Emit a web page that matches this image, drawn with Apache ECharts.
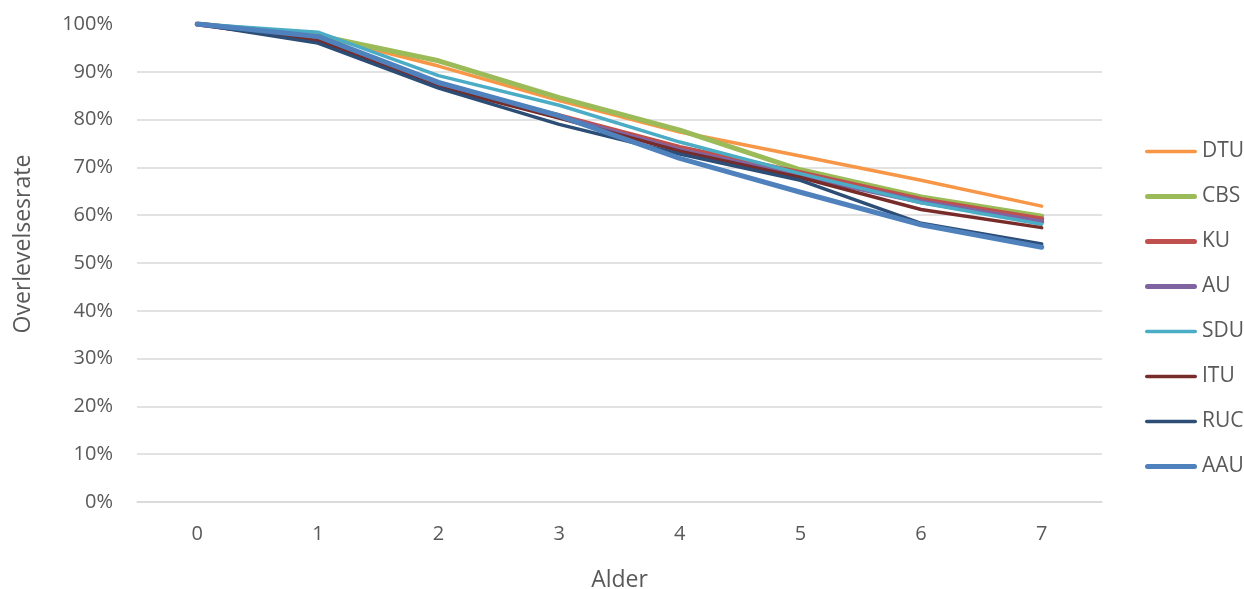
<!DOCTYPE html>
<html><head><meta charset="utf-8">
<script src="https://cdn.jsdelivr.net/npm/echarts@6/dist/echarts.min.js"></script>
<style>html,body{margin:0;padding:0;background:#fff}#c{width:1244px;height:589px}</style>
</head><body><div id="c"></div>
<script>
var categories = ['0','1','2','3','4','5','6','7'];
var DTU = [100, 97.6, 91.2, 84.0, 77.4, 72.4, 67.3, 61.9];
var CBS = [100, 97.6, 92.3, 84.6, 77.8, 69.5, 63.8, 59.8];
var KU  = [100, 96.8, 87.0, 80.8, 74.2, 68.9, 63.3, 59.2];
var AU  = [100, 96.9, 87.2, 80.6, 73.6, 68.2, 62.8, 58.6];
var SDU = [100, 98.3, 89.2, 83.0, 75.3, 68.7, 62.6, 58.1];
var ITU = [100, 96.5, 86.8, 80.3, 73.4, 67.9, 61.2, 57.4];
var RUC = [100, 96.0, 86.6, 79.0, 72.8, 67.3, 58.3, 54.0];
var AAU = [100, 97.4, 87.8, 80.8, 71.9, 64.8, 58.0, 53.3];
var yTicks = [0,10,20,30,40,50,60,70,80,90,100];

var seriesDefs = [
  {name:'DTU', data:DTU, color:'#F79646', thick:false},
  {name:'CBS', data:CBS, color:'#9BBB59', thick:true},
  {name:'KU',  data:KU,  color:'#C0504D', thick:true},
  {name:'AU',  data:AU,  color:'#8064A2', thick:true},
  {name:'SDU', data:SDU, color:'#4BACC6', thick:false},
  {name:'ITU', data:ITU, color:'#772C2A', thick:false},
  {name:'RUC', data:RUC, color:'#2C4D75', thick:false},
  {name:'AAU', data:AAU, color:'#4F81BD', thick:true}
];
var thickIcon = 'path://M2.5,0 H49.5 A2.5,2.5 0 0 1 49.5,5 H2.5 A2.5,2.5 0 0 1 2.5,0 Z';
var thinIcon  = 'path://M1.75,0 H50.25 A1.75,1.75 0 0 1 50.25,3.5 H1.75 A1.75,1.75 0 0 1 1.75,0 Z';
var font = '"Open Sans", sans-serif';
var gridColors = yTicks.map(function(v){ return v===100 ? 'rgba(0,0,0,0)' : '#d9d9d9'; });
var chart = echarts.init(document.getElementById('c'), null, {renderer:'canvas'});
chart.setOption({
  animation:false,
  grid:{left:137, right:142, top:24, bottom:87, outerBoundsMode:'none', containLabel:false},
  legend:{
    orient:'vertical', left:1145, top:141, padding:0, itemGap:24, itemWidth:52, itemHeight:5,
    symbolKeepAspect:true,
    textStyle:{fontFamily:font, fontSize:21, lineHeight:21, color:'#595959'},
    data: seriesDefs.map(function(s){ return {name:s.name, icon: s.thick ? thickIcon : thinIcon}; })
  },
  xAxis:{
    type:'category', data:categories, boundaryGap:true,
    name:'Alder', nameLocation:'middle', nameGap:67,
    nameTextStyle:{fontFamily:font, fontSize:23, color:'#595959'},
    axisLine:{show:true, lineStyle:{color:'#d9d9d9', width:1.5}},
    axisTick:{show:false},
    axisLabel:{fontFamily:font, fontSize:20, color:'#595959', margin:22}
  },
  yAxis:{
    type:'value', min:0, max:100, interval:10,
    name:'Overlevelsesrate', nameLocation:'middle', nameGap:102,
    nameTextStyle:{fontFamily:font, fontSize:23, color:'#595959', padding:[0,0,0,38]},
    axisLine:{show:false}, axisTick:{show:false},
    axisLabel:{fontFamily:font, fontSize:20, color:'#595959', margin:24, formatter:'{value}%'},
    splitLine:{show:true, lineStyle:{color:gridColors, width:1.5}}
  },
  series: seriesDefs.map(function(s){
    return {
      name:s.name, type:'line', data:s.data, symbol:'none', smooth:false,
      color:s.color,
      lineStyle:{color:s.color, width: s.thick ? 5 : 3.5, cap:'round', join:'round'},
      itemStyle:{color:s.color}
    };
  })
});
</script></body></html>
